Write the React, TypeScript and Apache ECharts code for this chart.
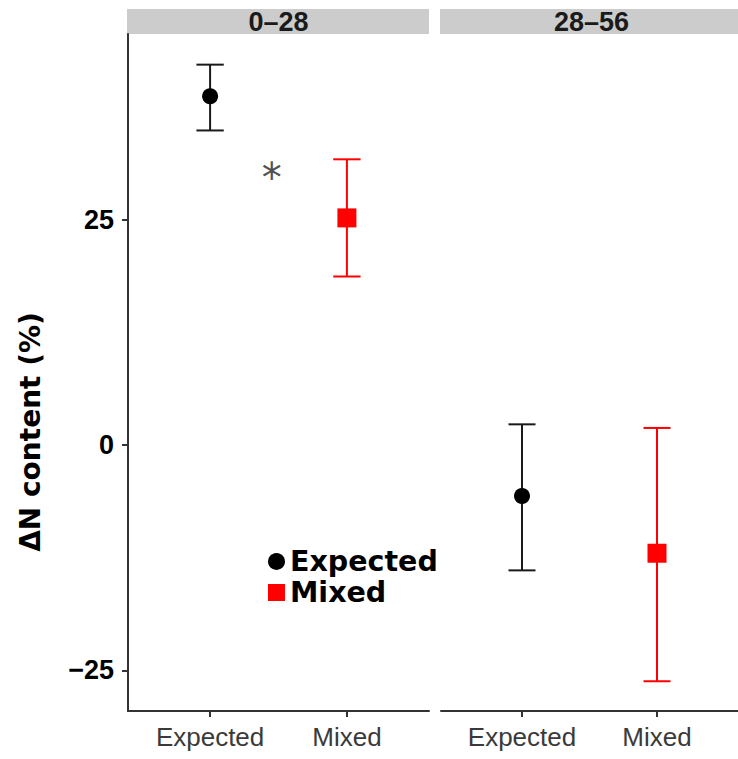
import React, { useEffect, useRef } from 'react';
import * as echarts from 'echarts';

const categories = ['Expected', 'Mixed'];
const panels = ['0–28', '28–56'];
const expectedMean = [38.7, -5.65];
const expectedLow = [34.9, -13.9];
const expectedHigh = [42.2, 2.3];
const mixedMean = [25.2, -12.0];
const mixedLow = [18.7, -26.2];
const mixedHigh = [31.7, 1.9];
const yTicks = [-25, 0, 25];
const annotationX = 1.45;
const annotationY = 30.3;
const annotationText = '*';
const yTitle = 'ΔN content (%)';

const SANS = '"Liberation Sans", Arial, Helvetica, sans-serif';
const DEJAVU = '"DejaVu Sans", sans-serif';
const AXIS = '#333333';

const PANEL_LEFT = [128, 441];
const PANEL_W = 301;
const PANEL_TOP = 34;
const PANEL_H = 677;

function errRender(color: string) {
  return (params: any, api: any) => {
    const x = api.value(0);
    const lo = api.value(1);
    const hi = api.value(2);
    const pTop = api.coord([x, hi]);
    const pBot = api.coord([x, lo]);
    const half = api.size([0.1, 0])[0];
    const style = { stroke: color, lineWidth: 2 };
    return {
      type: 'group',
      children: [
        { type: 'line', shape: { x1: pTop[0], y1: pTop[1], x2: pBot[0], y2: pBot[1] }, style },
        { type: 'line', shape: { x1: pTop[0] - half, y1: pTop[1], x2: pTop[0] + half, y2: pTop[1] }, style },
        { type: 'line', shape: { x1: pBot[0] - half, y1: pBot[1], x2: pBot[0] + half, y2: pBot[1] }, style },
      ],
    };
  };
}

export default function App() {
  const ref = useRef<HTMLDivElement>(null);
  useEffect(() => {
    if (!ref.current) return;
    const chart = echarts.init(ref.current, undefined, { renderer: 'svg' });
    const grids = panels.map((_, i) => ({
      left: PANEL_LEFT[i],
      top: PANEL_TOP,
      width: PANEL_W,
      height: PANEL_H,
      containLabel: false,
    }));
    const xAxes = panels.map((_, i) => ({
      type: 'value',
      gridIndex: i,
      min: 0.4,
      max: 2.6,
      splitLine: { show: false },
      axisLine: { show: true, onZero: false, lineStyle: { color: AXIS, width: 2 } },
      axisTick: { show: true, customValues: [1, 2], length: 6, lineStyle: { color: AXIS, width: 2 } },
      axisLabel: {
        show: true,
        customValues: [1, 2],
        formatter: (v: number) => categories[Math.round(v) - 1] ?? '',
        color: '#3a3a3a',
        fontSize: 26,
        fontFamily: SANS,
        margin: 13,
      },
    }));
    const yAxes = panels.map((_, i) => ({
      type: 'value',
      gridIndex: i,
      min: -29.5,
      max: 45.6,
      show: i === 0,
      splitLine: { show: false },
      axisLine: { show: i === 0, onZero: false, lineStyle: { color: AXIS, width: 2 } },
      axisTick: { show: i === 0, customValues: yTicks, length: 6, lineStyle: { color: AXIS, width: 2 } },
      axisLabel: {
        show: i === 0,
        customValues: yTicks,
        formatter: (v: number) => (v < 0 ? '\u2212' + Math.abs(v) : String(v)),
        color: '#000',
        fontWeight: 'bold',
        fontSize: 27,
        fontFamily: SANS,
        margin: 14,
      },
    }));
    const series: any[] = [];
    panels.forEach((_, i) => {
      series.push({
        type: 'custom',
        name: 'Expected error',
        xAxisIndex: i,
        yAxisIndex: i,
        data: [[1, expectedLow[i], expectedHigh[i]]],
        encode: { x: 0, y: [1, 2] },
        renderItem: errRender('#1a1a1a'),
        z: 2,
        silent: true,
      });
      series.push({
        type: 'custom',
        name: 'Mixed error',
        xAxisIndex: i,
        yAxisIndex: i,
        data: [[2, mixedLow[i], mixedHigh[i]]],
        encode: { x: 0, y: [1, 2] },
        renderItem: errRender('#ff0000'),
        z: 2,
        silent: true,
      });
      series.push({
        type: 'scatter',
        name: 'Expected',
        xAxisIndex: i,
        yAxisIndex: i,
        data: [[1, expectedMean[i]]],
        symbol: 'circle',
        symbolSize: 16,
        itemStyle: { color: '#000000', opacity: 1 },
        z: 3,
        silent: true,
      });
      series.push({
        type: 'scatter',
        name: 'Mixed',
        xAxisIndex: i,
        yAxisIndex: i,
        data: [[2, mixedMean[i]]],
        symbol: 'rect',
        symbolSize: 19,
        itemStyle: { color: '#ff0000', opacity: 1 },
        z: 3,
        silent: true,
      });
    });
    series.push({
      type: 'scatter',
      name: 'annotation',
      xAxisIndex: 0,
      yAxisIndex: 0,
      data: [[annotationX, annotationY]],
      symbolSize: 1,
      itemStyle: { color: 'rgba(0,0,0,0)' },
      label: {
        show: true,
        position: 'inside',
        formatter: annotationText,
        fontSize: 40,
        fontFamily: DEJAVU,
        color: '#222',
        offset: [0, 6],
      },
      silent: true,
      z: 4,
    });

    const graphic: any[] = [];
    panels.forEach((p, i) => {
      graphic.push({
        type: 'rect',
        shape: { x: PANEL_LEFT[i] - 1, y: 9, width: PANEL_W + 1, height: 25 },
        style: { fill: '#cccccc' },
        silent: true,
      });
      graphic.push({
        type: 'text',
        x: PANEL_LEFT[i] + PANEL_W / 2,
        y: 22,
        style: {
          text: p,
          fontSize: 27,
          fontWeight: 'bold',
          fontFamily: SANS,
          fill: '#1a1a1a',
          align: 'center',
          verticalAlign: 'middle',
        },
        silent: true,
      });
    });
    graphic.push({
      type: 'text',
      x: 30,
      y: 432,
      rotation: Math.PI / 2,
      style: {
        text: yTitle,
        fontSize: 28,
        fontWeight: 'bold',
        fontFamily: DEJAVU,
        fill: '#000',
        align: 'center',
        verticalAlign: 'middle',
      },
      silent: true,
    });

    chart.setOption({
      animation: false,
      textStyle: { fontFamily: SANS },
      grid: grids,
      xAxis: xAxes,
      yAxis: yAxes,
      legend: {
        orient: 'vertical',
        left: 268,
        top: 547,
        padding: 0,
        itemWidth: 17,
        itemHeight: 17,
        itemGap: 2,
        selectedMode: false,
        data: [
          { name: 'Expected', icon: 'circle' },
          { name: 'Mixed', icon: 'rect' },
        ],
        textStyle: {
          fontFamily: DEJAVU,
          fontWeight: 'bold',
          fontSize: 28.5,
          color: '#000',
          lineHeight: 28,
        },
      },
      graphic,
      series,
    });
    return () => chart.dispose();
  }, []);
  return (
    <div
      ref={ref}
      style={{ position: 'absolute', left: 0, top: 0, width: 738, height: 759, background: '#fff' }}
    />
  );
}
